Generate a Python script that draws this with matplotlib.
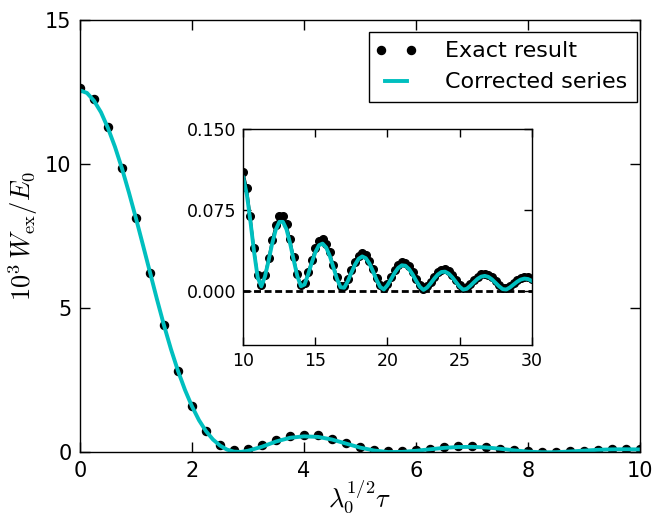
import matplotlib
matplotlib.use('Agg')
import matplotlib.pyplot as plt
from matplotlib.ticker import FormatStrFormatter
from matplotlib.legend_handler import HandlerLine2D

plt.rcParams['mathtext.fontset'] = 'cm'
plt.rcParams['font.family'] = ['DejaVu Sans']

CYAN = (0.0, 0.75, 0.75)

# ---------------- main panel data ----------------
x_exact_main = [0.0, 0.25, 0.5, 0.75, 1.0, 1.25, 1.5, 1.75, 2.0, 2.25, 2.5, 2.75,
                3.0, 3.25, 3.5, 3.75, 4.0, 4.25, 4.5, 4.75, 5.0, 5.25, 5.5, 5.75,
                6.0, 6.25, 6.5, 6.75, 7.0, 7.25, 7.5, 7.75, 8.0, 8.25, 8.5, 8.75,
                9.0, 9.25, 9.5, 9.75, 10.0]
y_exact_main = [12.64, 12.26, 11.28, 9.86, 8.12, 6.24, 4.41, 2.83, 1.60, 0.74, 0.27, 0.09,
                0.13, 0.27, 0.45, 0.57, 0.62, 0.59, 0.47, 0.32, 0.18, 0.07, 0.04, 0.04,
                0.07, 0.13, 0.18, 0.24, 0.24, 0.20, 0.13, 0.07, 0.04, 0.02, 0.02, 0.04,
                0.06, 0.09, 0.11, 0.12, 0.11]

x_corr_main = [0.0, 0.125, 0.25, 0.375, 0.5, 0.625, 0.75, 0.875, 1.0, 1.125, 1.25, 1.375,
               1.5, 1.625, 1.75, 1.875, 2.0, 2.125, 2.25, 2.375, 2.5, 2.625, 2.75, 2.875,
               3.0, 3.25, 3.5, 3.75, 4.0, 4.25, 4.5, 4.75, 5.0, 5.25, 5.5, 5.75,
               6.0, 6.25, 6.5, 6.75, 7.0, 7.25, 7.5, 7.75, 8.0, 8.25, 8.5, 8.75,
               9.0, 9.25, 9.5, 9.75, 10.0]
y_corr_main = [12.56, 12.47, 12.20, 11.80, 11.25, 10.60, 9.85, 9.01, 8.12, 7.19, 6.25, 5.31,
               4.41, 3.58, 2.83, 2.17, 1.60, 1.12, 0.74, 0.45, 0.24, 0.10, 0.03, 0.02,
               0.06, 0.20, 0.38, 0.51, 0.56, 0.54, 0.45, 0.31, 0.17, 0.07, 0.015, 0.02,
               0.06, 0.11, 0.16, 0.19, 0.195, 0.175, 0.13, 0.075, 0.03, 0.008, 0.01, 0.035,
               0.065, 0.092, 0.108, 0.112, 0.105]

# ---------------- inset data ----------------
x_inset = [10.0, 10.25, 10.5, 10.75, 11.0, 11.25, 11.5, 11.75, 12.0, 12.25, 12.5, 12.75,
           13.0, 13.25, 13.5, 13.75, 14.0, 14.25, 14.5, 14.75, 15.0, 15.25, 15.5, 15.75,
           16.0, 16.25, 16.5, 16.75, 17.0, 17.25, 17.5, 17.75, 18.0, 18.25, 18.5, 18.75,
           19.0, 19.25, 19.5, 19.75, 20.0, 20.25, 20.5, 20.75, 21.0, 21.25, 21.5, 21.75,
           22.0, 22.25, 22.5, 22.75, 23.0, 23.25, 23.5, 23.75, 24.0, 24.25, 24.5, 24.75,
           25.0, 25.25, 25.5, 25.75, 26.0, 26.25, 26.5, 26.75, 27.0, 27.25, 27.5, 27.75,
           28.0, 28.25, 28.5, 28.75, 29.0, 29.25, 29.5, 29.75, 30.0]
y_exact_inset = [0.110, 0.0955, 0.069, 0.0394, 0.0145, 0.0058, 0.0152, 0.0308, 0.0475, 0.0612, 0.0690, 0.0690,
                 0.0616, 0.0478, 0.0314, 0.0157, 0.0059, 0.0076, 0.0175, 0.0291, 0.0394, 0.0461, 0.0477, 0.0439,
                 0.0357, 0.0245, 0.0132, 0.0049, 0.0044, 0.0108, 0.0192, 0.0271, 0.0328, 0.0351, 0.0334, 0.0282,
                 0.0205, 0.0121, 0.0052, 0.0027, 0.0068, 0.0129, 0.0190, 0.0239, 0.0264, 0.0260, 0.0227, 0.0174,
                 0.0111, 0.0053, 0.0023, 0.0046, 0.0087, 0.0134, 0.0174, 0.0199, 0.0202, 0.0183, 0.0147, 0.0101,
                 0.0055, 0.0026, 0.0033, 0.0063, 0.0098, 0.0131, 0.0153, 0.0160, 0.0151, 0.0126, 0.0093, 0.0058,
                 0.0030, 0.0027, 0.0047, 0.0076, 0.0103, 0.0124, 0.0134, 0.0130, 0.0113]
y_corr_inset = [0.105, 0.089, 0.064, 0.036, 0.0125, 0.0043, 0.0132, 0.0279, 0.0437, 0.0566, 0.0640, 0.0640,
                0.0570, 0.0440, 0.0285, 0.0137, 0.0044, 0.0060, 0.0154, 0.0263, 0.0360, 0.0424, 0.0439, 0.0403,
                0.0325, 0.0220, 0.0113, 0.0035, 0.0030, 0.0091, 0.0170, 0.0244, 0.0298, 0.0320, 0.0304, 0.0255,
                0.0182, 0.0103, 0.0038, 0.0014, 0.0053, 0.0110, 0.0168, 0.0214, 0.0238, 0.0234, 0.0203, 0.0153,
                0.0093, 0.0039, 0.0010, 0.0032, 0.0071, 0.0115, 0.0153, 0.0176, 0.0179, 0.0161, 0.0127, 0.0084,
                0.0041, 0.0013, 0.0020, 0.0048, 0.0081, 0.0112, 0.0133, 0.0140, 0.0131, 0.0108, 0.0076, 0.0043,
                0.0017, 0.0014, 0.0033, 0.0060, 0.0086, 0.0106, 0.0115, 0.0111, 0.0095]

main_xticks = [0, 2, 4, 6, 8, 10]
main_yticks = [0, 5, 10, 15]
inset_xticks = [10, 15, 20, 25, 30]
inset_yticks = [0.0, 0.075, 0.150]

fig = plt.figure(figsize=(6.54, 5.21), dpi=100)
ax = fig.add_axes([0.1223, 0.1315, 0.8563, 0.8301])
dots, = ax.plot(x_exact_main, y_exact_main, 'o', color='k', mec='k', ms=5.8, label='Exact result')
ax.plot(x_corr_main, y_corr_main, '-', color=CYAN, lw=2.8, label='Corrected series')
ax.set_xlim(0, 10)
ax.set_ylim(0, 15)
ax.set_xticks(main_xticks)
ax.set_yticks(main_yticks)
ax.tick_params(direction='in', top=True, right=True, length=7, width=1,
               labelsize=15, pad=6)
for s in ax.spines.values():
    s.set_linewidth(1)
ax.set_xlabel(r'$\lambda_0^{1/2}\tau$', fontsize=19, labelpad=-2)
ax.set_ylabel(r'$10^3\,W_{\rm ex}/E_0$', fontsize=19, labelpad=4)
leg = ax.legend(loc='upper right', bbox_to_anchor=(0.9946, 0.9723), borderaxespad=0,
                numpoints=2, fontsize=16, fancybox=False,
                edgecolor='k', framealpha=1, handlelength=1.55,
                handletextpad=1.45, borderpad=0.42, labelspacing=0.5,
                handler_map={dots: HandlerLine2D(marker_pad=0.1)})
leg.get_frame().set_linewidth(1)

ax2 = fig.add_axes([0.372, 0.3378, 0.4408, 0.4146])
ax2.axhline(0, color='k', lw=2, ls=(0, (2.5, 1.3)))
ax2.plot(x_inset, y_exact_inset, '-', color='k', lw=1.5)
ax2.plot(x_inset, y_exact_inset, 'o', color='k', mec='k', ms=5.5)
ax2.plot(x_inset, y_corr_inset, '-', color=CYAN, lw=2.8)
ax2.set_xlim(10, 30)
ax2.set_ylim(-0.05, 0.15)
ax2.set_xticks(inset_xticks)
ax2.set_yticks(inset_yticks)
ax2.yaxis.set_major_formatter(FormatStrFormatter('%.3f'))
ax2.tick_params(direction='in', top=True, right=True, length=6, width=1,
                labelsize=12.5, pad=5)
for s in ax2.spines.values():
    s.set_linewidth(1)

fig.savefig('out.png', dpi=100)
